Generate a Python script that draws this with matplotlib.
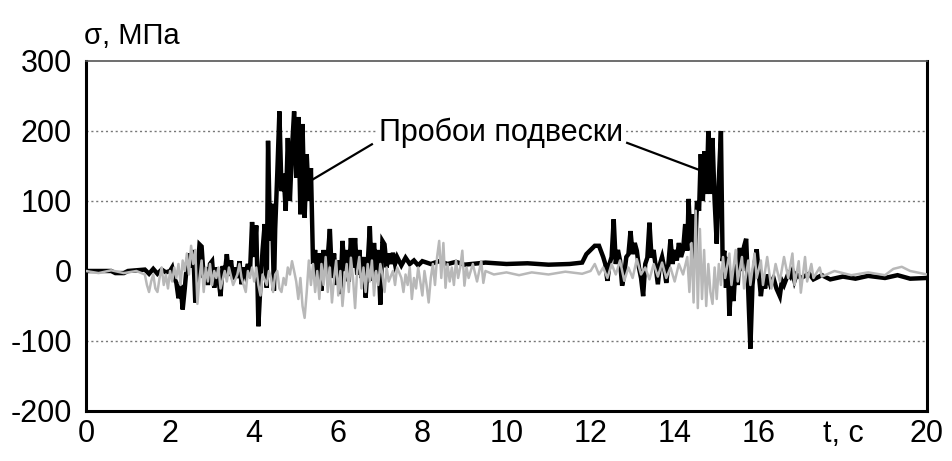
import matplotlib
matplotlib.use("Agg")
import matplotlib.pyplot as plt
from matplotlib import font_manager

# Stress record: black and grey channels, time in s, stress in MPa
black_t = [0.0, 0.6, 0.7, 0.9, 1.0, 1.4, 1.5, 1.6, 1.7, 1.8, 1.9, 2.0, 2.05, 2.1, 2.15, 2.2, 2.25, 2.3, 2.35,
           2.4, 2.45, 2.5, 2.55, 2.6, 2.65, 2.7, 2.75, 2.8, 2.85, 2.9, 2.95, 3.0, 3.05, 3.1, 3.15, 3.2, 3.25,
           3.3, 3.35, 3.4, 3.45, 3.5, 3.55, 3.6, 3.65, 3.7, 3.75, 3.8, 3.85, 3.9, 3.95, 4.0, 4.05, 4.1, 4.15,
           4.2, 4.25, 4.3, 4.33, 4.38, 4.42, 4.47, 4.5, 4.55, 4.6, 4.65, 4.7, 4.75, 4.8, 4.85, 4.9, 4.95, 5.0,
           5.05, 5.1, 5.15, 5.2, 5.25, 5.3, 5.35, 5.4, 5.45, 5.5, 5.55, 5.6, 5.65, 5.7, 5.75, 5.8, 5.85, 5.9,
           5.95, 6.0, 6.05, 6.1, 6.15, 6.2, 6.25, 6.3, 6.35, 6.4, 6.45, 6.5, 6.55, 6.6, 6.65, 6.7, 6.75, 6.8,
           6.85, 6.9, 6.95, 7.0, 7.05, 7.1, 7.15, 7.2, 7.25, 7.3, 7.35, 7.4, 7.5, 7.6, 7.7, 7.8, 7.9, 8.0,
           8.2, 8.4, 8.6, 8.8, 9.0, 9.5, 10.0, 10.5, 11.0, 11.5, 11.8, 11.9, 12.0, 12.1, 12.2, 12.3, 12.35,
           12.4, 12.45, 12.5, 12.55, 12.6, 12.65, 12.7, 12.75, 12.8, 12.85, 12.9, 12.95, 13.0, 13.05, 13.1,
           13.15, 13.2, 13.25, 13.3, 13.35, 13.4, 13.45, 13.5, 13.55, 13.6, 13.65, 13.7, 13.75, 13.8, 13.85,
           13.9, 13.95, 14.0, 14.05, 14.1, 14.15, 14.2, 14.25, 14.3, 14.33, 14.38, 14.43, 14.48, 14.53, 14.58,
           14.62, 14.67, 14.71, 14.76, 14.8, 14.85, 14.9, 14.95, 15.0, 15.05, 15.1, 15.14, 15.18, 15.22,
           15.26, 15.3, 15.35, 15.4, 15.45, 15.5, 15.55, 15.6, 15.65, 15.7, 15.75, 15.8, 15.85, 15.9, 15.95,
           16.0, 16.05, 16.1, 16.15, 16.2, 16.27, 16.35, 16.42, 16.5, 16.55, 16.6, 16.7, 16.75, 16.8, 16.85,
           16.9, 17.0, 17.2, 17.3, 17.5, 17.7, 18.0, 18.3, 18.6, 19.0, 19.3, 19.6, 20.0]
black_v = [0, 0, -3, -3, 0, 2, -4, 3, -4, 2, -2, 0, 5, -10, -17, -39, -20, -55, -25,
           10, 25, 5, 30, -45, -5, 38, 35, -10, 5, -20, 10, 14, -24, 5, -10, -36, 7,
           -5, 24, -7, 15, -12, 5, -10, 14, -19, 5, -5, 10, -3, 70, 20, 65, -79, -18,
           30, 67, -24, 186, 43, 96, -28, 60, 140, 228, 114, 139, 86, 190, 100, 175, 228, 133,
           220, 81, 210, 76, 167, 100, 147, 10, 30, -15, 25, -28, 30, -5, 20, 60, -10, 25,
           -20, 15, -33, 43, 0, 30, -15, 47, 5, 47, -5, 30, -10, 20, -38, 10, 64, -14,
           40, 0, 30, -48, 43, 38, 5, 25, 10, 26, 10, 20, 8, 19, 10, 15, 8, 14,
           10, 14, 10, 13, 9, 12, 10, 11, 9, 10, 12, 24, 30, 36, 36, 20, 10,
           -14, 10, 20, 74, 10, 30, 15, -21, -5, 20, 24, 57, 24, 40, 29,
           5, -10, -36, 10, 19, 69, 19, 30, 5, -19, 10, 20, 5, -17, 10,
           45, 10, 30, 15, 40, 20, 30, 67, 29, 103, 40, 81, 14, 100, 86,
           167, 100, 171, 110, 200, 110, 190, 100, 39, 130, 200, 14, 29, -24,
           20, -64, -10, -43, 10, -20, 33, 0, 35, 46, -30, -111, -20, 10, 31,
           -4, -36, -10, -25, -5, -19, -10, -25, -36, -14, -20, -4, -8, 0, -14,
           -5, -10, -4, -12, -6, -12, -8, -11, -7, -10, -6, -11, -10]

grey_t = [0.0, 0.3, 0.6, 0.9, 1.2, 1.4, 1.45, 1.5, 1.55, 1.6, 1.65, 1.7, 1.75, 1.8, 1.85, 1.9, 1.95, 2.0,
          2.05, 2.1, 2.15, 2.2, 2.25, 2.3, 2.35, 2.4, 2.45, 2.5, 2.55, 2.6, 2.65, 2.7, 2.75, 2.8, 2.85, 2.9,
          2.95, 3.0, 3.05, 3.1, 3.15, 3.2, 3.3, 3.35, 3.4, 3.5, 3.6, 3.65, 3.7, 3.8, 3.85, 3.9, 3.95, 4.0,
          4.05, 4.1, 4.15, 4.2, 4.3, 4.35, 4.4, 4.45, 4.5, 4.55, 4.6, 4.65, 4.7, 4.75, 4.8, 4.85, 4.9, 4.95,
          5.0, 5.05, 5.1, 5.15, 5.2, 5.25, 5.3, 5.35, 5.4, 5.45, 5.5, 5.55, 5.6, 5.65, 5.7, 5.75, 5.8, 5.85,
          5.9, 5.95, 6.0, 6.05, 6.1, 6.15, 6.2, 6.25, 6.3, 6.35, 6.4, 6.45, 6.5, 6.55, 6.6, 6.65, 6.7, 6.75,
          6.8, 6.85, 6.9, 6.95, 7.0, 7.05, 7.1, 7.15, 7.2, 7.3, 7.35, 7.4, 7.5, 7.55, 7.6, 7.65, 7.7, 7.75,
          7.8, 7.85, 7.9, 7.95, 8.0, 8.05, 8.1, 8.15, 8.2, 8.25, 8.3, 8.35, 8.4, 8.45, 8.5, 8.55, 8.6, 8.65,
          8.7, 8.75, 8.8, 8.85, 8.9, 8.95, 9.0, 9.05, 9.1, 9.2, 9.3, 9.4, 9.45, 9.5, 9.7, 10.0, 10.3, 10.6,
          11.0, 11.4, 11.8, 12.0, 12.1, 12.2, 12.3, 12.4, 12.5, 12.6, 12.7, 12.8, 12.9, 13.0, 13.1, 13.2,
          13.3, 13.4, 13.5, 13.6, 13.7, 13.8, 13.9, 14.0, 14.1, 14.2, 14.3, 14.35, 14.4, 14.45, 14.5, 14.55,
          14.6, 14.65, 14.7, 14.75, 14.8, 14.85, 14.9, 14.95, 15.0, 15.05, 15.1, 15.15, 15.2, 15.3, 15.35,
          15.45, 15.5, 15.6, 15.65, 15.75, 15.8, 15.9, 15.95, 16.05, 16.1, 16.2, 16.3, 16.4, 16.5, 16.6,
          16.7, 16.8, 16.85, 16.95, 17.0, 17.1, 17.15, 17.25, 17.3, 17.45, 17.5, 17.8, 18.2, 18.6, 19.0,
          19.2, 19.4, 19.6, 20.0]
grey_v = [0, -3, 1, -3, 0, -5, -20, -30, -15, -5, -25, -30, -10, 5, -20, -5, -25, 0,
          -15, 5, -10, 10, -20, 15, 0, 25, -5, 36, 10, 30, -47, -10, 15, -30, 5, -15,
          10, -20, 0, -10, 5, -25, 0, -15, 5, -20, -5, 10, -10, -30, 0, -10, 5, -15,
          5, -20, -35, -5, -20, 0, -10, -30, -5, 0, -25, -30, -10, -20, 5, -5, 14, 0,
          -15, -40, -10, -50, -67, -30, 15, -20, 10, -30, 0, -40, 10, -20, 20, -30, 5, -45,
          -10, 15, -35, 0, -50, -15, 10, -30, 19, -10, -53, 0, 20, -25, 5, -30, 10, -15,
          15, -35, 0, -20, 10, -5, -30, 5, -15, 0, -20, 5, -10, -30, -5, -20, 5, -40,
          -10, -25, 5, -15, -35, 0, -20, -45, -10, 10, -20, 20, 43, -10, 40, -24, 10, -15,
          5, -20, 15, -10, 5, 29, -21, 5, -10, 10, -15, 14, -17, 0, -5, -2, -6, -2,
          -5, -1, -4, 0, 10, -5, 5, -10, 10, -5, 15, -14, 5, -10, 17, -5,
          5, -12, 10, -8, 12, -10, 5, -15, 10, -5, 20, -30, 40, -45, 86, -53,
          60, -40, 30, -50, 10, -30, -47, 5, -40, 10, -20, 20, -10, 25, -20,
          30, -15, 20, -25, 15, -20, 25, -10, 15, -20, 20, -25, 10, -15, 20,
          -10, 25, -20, 14, -31, 20, -15, 10, -10, 5, -8, 0, -6, -2, -6,
          3, 6, 0, -5]

y_ticks = [-200, -100, 0, 100, 200, 300]
x_ticks = [0, 2, 4, 6, 8, 10, 12, 14, 16, 18, 20]
x_tick_labels = ["0", "2", "4", "6", "8", "10", "12", "14", "16", "t, c", "20"]

names = {f.name for f in font_manager.fontManager.ttflist}
narrow = "Liberation Sans Narrow" if "Liberation Sans Narrow" in names else "Liberation Sans"
plt.rcParams["font.family"] = [narrow, "DejaVu Sans"]

fig = plt.figure(figsize=(9.53, 4.61), dpi=100)
ax = fig.add_axes([0.0902, 0.1085, 0.8825, 0.7592])

ax.plot(black_t, black_v, color="black", lw=3.2, solid_joinstyle="miter", zorder=3)
ax.plot(grey_t, grey_v, color="#b8b8b8", lw=1.8, zorder=4)

ax.set_xlim(0, 20)
ax.set_ylim(-200, 300)
ax.set_yticks(y_ticks)
ax.set_yticklabels([str(v) for v in y_ticks])
ax.set_xticks(x_ticks)
ax.set_xticklabels(x_tick_labels)
ax.tick_params(length=0, labelsize=22, colors="black")
ax.tick_params(axis="y", pad=10)
ax.tick_params(axis="x", pad=6)

for y in [100, 200, -100]:
    ax.axhline(y, color="#777777", lw=1.0, ls=(0, (1.5, 2.0)), zorder=1)

for side in ("left", "bottom", "right"):
    ax.spines[side].set_linewidth(2.2)
    ax.spines[side].set_color("black")
ax.spines["top"].set_linewidth(1.2)
ax.spines["top"].set_color("#555555")
ax.spines["top"].set_linestyle((0, (2, 1)))

fig.text(0.088, 0.905, "σ, МПа", fontsize=21, ha="left", va="baseline",
         family=[narrow, "DejaVu Sans"])

ax.text(9.87, 198, "Пробои подвески", fontsize=22, ha="center", va="center", zorder=6,
        bbox=dict(facecolor="white", edgecolor="none", pad=1))
ax.plot([6.8, 5.4], [181, 131], color="black", lw=1.6, zorder=5)
ax.plot([12.87, 14.6], [183, 144], color="black", lw=1.6, zorder=5)

fig.savefig("out.png", dpi=100)
